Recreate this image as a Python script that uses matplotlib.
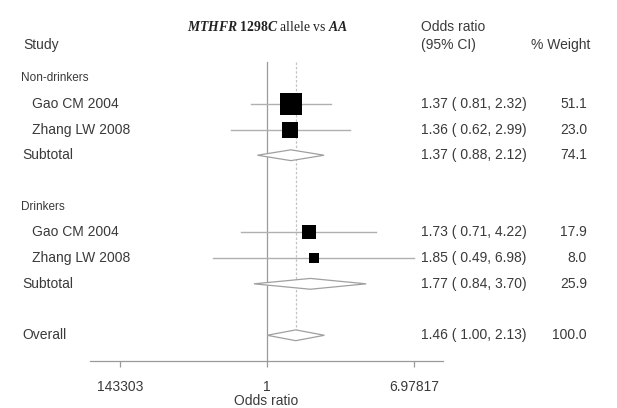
import matplotlib.pyplot as plt
import matplotlib.transforms as mtransforms
from matplotlib.patches import Polygon
import numpy as np

# study-level data
group_names = ["Non-drinkers", "Drinkers"]
study_names = ["Gao CM 2004", "Zhang LW 2008", "Gao CM 2004", "Zhang LW 2008"]
study_or = [1.37, 1.36, 1.73, 1.85]
study_lo = [0.81, 0.62, 0.71, 0.49]
study_hi = [2.32, 2.99, 4.22, 6.98]
study_wt = [51.1, 23.0, 17.9, 8.0]

# subgroup pooled estimates
sub_or = [1.37, 1.77]
sub_lo = [0.88, 0.84]
sub_hi = [2.12, 3.70]
sub_wt = [74.1, 25.9]

# overall pooled estimate
overall_or = 1.46
overall_lo = 1.00
overall_hi = 2.13
overall_wt = 100.0

tick_values = [0.143303, 1, 6.97817]
tick_labels = ["143303", "1", "6.97817"]

# row layout (0 = top row)
group_rows = [0, 5]
study_rows = [1, 2, 6, 7]
sub_rows = [3, 8]
overall_row = 10

W, H = 617, 408
plt.rcParams['font.family'] = ['Liberation Sans', 'DejaVu Sans']
plt.rcParams['mathtext.fontset'] = 'custom'
plt.rcParams['mathtext.it'] = 'Liberation Serif:italic:bold'
plt.rcParams['mathtext.rm'] = 'Liberation Serif:bold'

fig = plt.figure(figsize=(W / 100, H / 100), dpi=100, facecolor='w')
ax = fig.add_axes([90 / W, 1 - 361 / H, (443 - 90) / W, 361 / H])
ax.set_facecolor('none')
ax.set_xscale('log')
ax.set_xlim(0.0965, 10.2)
ax.set_ylim(11, -3.035)

txt = '#3a3a3a'
line_c = '#b0b0b0'
axis_c = '#9a9a9a'
tr = mtransforms.blended_transform_factory(fig.transFigure, ax.transData)

def fx(px):
    return px / W

# reference lines
ax.plot([1, 1], [-0.62, 11], color=axis_c, lw=0.9, zorder=1)
ax.plot([overall_or, overall_or], [-0.62, overall_row - 0.2], color='#c4c4c4',
        lw=0.9, ls=(0, (2, 1.5)), zorder=1)

# studies
for r, name, o, lo, hi, w in zip(study_rows, study_names, study_or, study_lo, study_hi, study_wt):
    ax.plot([lo, hi], [r, r], color=line_c, lw=1.0, zorder=2)
    side_pt = 23 * np.sqrt(w / 51.1) * 0.72
    ax.scatter([o], [r], marker='s', s=side_pt ** 2, color='black', linewidths=0, zorder=3)
    ax.text(fx(32), r, name, transform=tr, ha='left', va='center', fontsize=10, color=txt)
    ax.text(fx(421), r, f"{o:.2f} ({lo:5.2f}, {hi:.2f})", transform=tr, ha='left', va='center',
            fontsize=10, color=txt)
    ax.text(fx(587), r, f"{w:.1f}", transform=tr, ha='right', va='center', fontsize=10, color=txt)

def diamond(o, lo, hi, r):
    h = 0.21
    p = Polygon([(lo, r), (o, r - h), (hi, r), (o, r + h)], closed=True,
                facecolor='white', edgecolor='#a0a0a0', lw=0.9, zorder=4)
    ax.add_patch(p)

for r, g in zip(group_rows, group_names):
    ax.text(fx(21), r, g, transform=tr, ha='left', va='center', fontsize=8.5, color=txt)

for r, o, lo, hi, w in zip(sub_rows, sub_or, sub_lo, sub_hi, sub_wt):
    diamond(o, lo, hi, r)
    ax.text(fx(22), r, "Subtotal", transform=tr, ha='left', va='center', fontsize=10, color=txt)
    ax.text(fx(421), r, f"{o:.2f} ({lo:5.2f}, {hi:.2f})", transform=tr, ha='left', va='center',
            fontsize=10, color=txt)
    ax.text(fx(587), r, f"{w:.1f}", transform=tr, ha='right', va='center', fontsize=10, color=txt)

diamond(overall_or, overall_lo, overall_hi, overall_row)
ax.text(fx(22), overall_row, "Overall", transform=tr, ha='left', va='center', fontsize=10, color=txt)
ax.text(fx(421), overall_row, f"{overall_or:.2f} ({overall_lo:5.2f}, {overall_hi:.2f})",
        transform=tr, ha='left', va='center', fontsize=10, color=txt)
ax.text(fx(587), overall_row, f"{overall_wt:.1f}", transform=tr, ha='right', va='center',
        fontsize=10, color=txt)

# headers
ax.text(fx(23), -1.28, "Study", transform=tr, ha='left', va='center', fontsize=10, color=txt)
ax.text(fx(421), -2.0, "Odds ratio", transform=tr, ha='left', va='center', fontsize=10, color=txt)
ax.text(fx(421), -1.28, "(95% CI)", transform=tr, ha='left', va='center', fontsize=10, color=txt)
ax.text(fx(590), -1.28, "% Weight", transform=tr, ha='right', va='center', fontsize=10, color=txt)
ax.text(1, -1.98, r"$\mathit{MTHFR\ 1298C}$ allele vs $\mathit{AA}$", ha='center', va='center',
        fontsize=9.8, color='#222222', family='Liberation Serif')

# axis
for s in ['top', 'left', 'right']:
    ax.spines[s].set_visible(False)
ax.spines['bottom'].set_color(axis_c)
ax.spines['bottom'].set_linewidth(0.9)
ax.set_yticks([])
ax.minorticks_off()
ax.set_xticks(tick_values)
ax.set_xticklabels(tick_labels)
ax.tick_params(axis='x', which='both', length=4, width=0.9, color=axis_c, pad=10,
               labelsize=10, labelcolor=txt)
ax.tick_params(axis='x', which='minor', length=0)
ax.set_xlabel("Odds ratio", fontsize=10, color=txt, labelpad=0)

fig.savefig("out.png", dpi=100)
